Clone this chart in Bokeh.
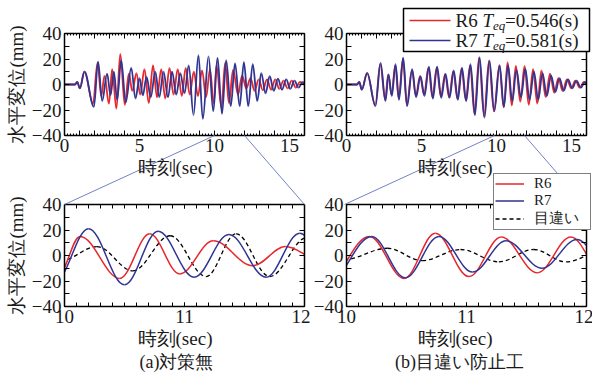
import math
import numpy as np
from bokeh.plotting import figure
from bokeh.models import (Range1d, LinearAxis, FixedTicker, Legend, LegendItem, Label,
                          ColumnDataSource, GridBox, NoOverlap)
from bokeh.layouts import column
from bokeh.embed import file_html
from bokeh.resources import INLINE

# ---------------- data (extrema) ----------------
# (a) 対策無
t_R6a = [0, 0.7, 0.85, 1.02, 1.33, 1.9, 2.2, 2.45, 2.67, 2.96, 3.18, 3.46, 3.72, 4.02, 4.29,
         4.52, 4.8, 5.05, 5.33, 5.62, 5.9, 6.17, 6.45, 6.72, 7.0, 7.27, 7.55, 7.82, 8.08, 8.35,
         8.62, 8.9, 9.17, 9.44, 9.7, 9.95, 10.13, 10.46, 10.71, 10.96, 11.24, 11.57, 11.84, 12.12,
         12.4, 12.67, 12.95, 13.22, 13.5, 13.77, 14.05, 14.32, 14.6, 14.87, 15.15, 15.42, 15.7, 16.0]
v_R6a = [0, 0, 2, -3, 10, -15, 17, -9, 7, -15, 12, -19, 24, -16, 8.5,
         -5, 9, -8, 12, -14.5, 15, -10, 12, -11, 13, -8, 12, -9, 13, -8,
         10, -9, 11, -10, 12, -15, 15, -18, 17, -14.5, 11.5, -8, 7, -3,
         5, -5, 4, -4.5, 4, -4, 4, -3.5, 3, -3, 3, -2.5, 2, 0]
t_R7a = [0, 0.7, 0.85, 1.02, 1.33, 1.96, 2.24, 2.51, 2.84, 3.07, 3.29, 3.51, 3.78, 4.08, 4.45,
         4.73, 5.0, 5.22, 5.47, 5.75, 6.05, 6.32, 6.6, 6.9, 7.17, 7.45, 7.72, 8.0, 8.28, 8.6,
         8.93, 9.22, 9.6, 9.92, 10.2, 10.5, 10.78, 11.08, 11.37, 11.68, 11.96, 12.25, 12.55, 12.85,
         13.12, 13.4, 13.68, 13.95, 14.23, 14.5, 14.78, 15.05, 15.33, 15.6, 15.88, 16.0]
v_R7a = [0, 0, 2, -3, 10, -17.5, 18, -13, 8.5, -8.5, 10, -12, 19, -14, 13,
         -11, 5, -8.5, 6, -10, 10, -10, 10, -10, 10, -8, 9, -7, 15, -24,
         23, -27, 22, -21, 21, -23, 19, -17, 16.5, -17, 17.5, -17, 16, -13,
         9, -7, 6.5, -5, 4.5, -4, 4, -3.5, 3, -2.5, 2, 0]
t_Da = [9.7, 9.97, 10.27, 10.57, 10.88, 11.18, 11.43, 11.71, 12.02, 12.3]
v_Da = [2, -4, 7, -12, 15.5, -16.5, 17, -16.5, 14, -10]

# (b) 目違い防止工
t_R6b = [0, 0.7, 0.85, 1.02, 1.37, 1.92, 2.25, 2.58, 2.78, 3.0, 3.25, 3.48, 3.76, 4.02, 4.36,
         4.62, 4.9, 5.17, 5.46, 5.73, 6.01, 6.29, 6.57, 6.84, 7.12, 7.39, 7.67, 7.95, 8.24, 8.53,
         8.84, 9.17, 9.5, 9.83, 10.19, 10.48, 10.74, 11.02, 11.29, 11.59, 11.87, 12.15, 12.44, 12.72,
         13.0, 13.28, 13.57, 13.85, 14.13, 14.41, 14.7, 14.98, 15.26, 15.55, 15.83, 16.0]
v_R6b = [0, 0, 2, -4, 9, -16, 16, -12, 8, -8, 15, -11, 20, -16, 11,
         -9, 6.5, -8, 13, -10, 13, -9.5, 8, -10, 10.5, -11, 12.5, -12, 15, -23,
         21, -25, 18.5, -21, 15, -18, 17.5, -16.5, 14.5, -13.5, 14.5, -16, 12, -15,
         11, -10, 8.5, -6.5, 5, -5, 4, -3, 3, -2.5, 2, 0]
t_R7b = [0, 0.7, 0.85, 1.02, 1.38, 1.93, 2.27, 2.6, 2.8, 3.02, 3.27, 3.5, 3.78, 4.04, 4.38,
         4.64, 4.93, 5.2, 5.49, 5.76, 6.04, 6.32, 6.6, 6.87, 7.15, 7.42, 7.7, 7.98, 8.27, 8.56,
         8.87, 9.2, 9.53, 9.85, 10.21, 10.49, 10.77, 11.05, 11.33, 11.63, 11.92, 12.2, 12.5, 12.78,
         13.07, 13.35, 13.64, 13.92, 14.2, 14.48, 14.77, 15.05, 15.33, 15.62, 15.9, 16.0]
v_R7b = [0, 0, 2, -4, 9, -17, 17, -13, 8, -9, 16, -12, 21, -17, 12,
         -10, 6.5, -9, 14, -11, 14, -10.5, 8.5, -10.5, 11, -12, 13, -13, 16, -24,
         21.5, -26, 19, -21, 15, -17.5, 15, -13, 11.5, -10, 12.5, -12, 10, -12,
         9, -9, 7, -6, 5, -5, 4, -3, 3, -2.5, 2, 0]
t_Db = [9.7, 9.98, 10.34, 10.63, 10.95, 11.27, 11.56, 11.83, 12.15, 12.4]
v_Db = [3, -3.2, 5.7, -4, 4.7, -5, 4.7, -5, 4.5, -4]

# ticks / labels
Y_MAJOR = [-40, -20, 0, 20, 40]
Y_MINOR = [-30, -10, 10, 30]
XT_MAJOR = list(range(0, 17))
XB_MAJOR = [10, 11, 12]
ZOOM_T = [10, 12]
LEG_TOP = ["R6", "R7"]
TEQ = ["=0.546(s)", "=0.581(s)"]
LEG_BOT = ["R6", "R7", "目違い"]
XLABEL = "時刻(sec)"
YLABEL = "水平変位(mm)"
CAPTIONS = ["(a)対策無", "(b)目違い防止工"]

# ---------------- styling ----------------
RED = "#e8262d"
BLUE = "#2e3592"
ZOOM = "#7282c8"
TXT = "#1a1a1a"
SERIF = "Liberation Serif"
FW, FH = 240, 102
W, H = 591, 375

GEOM = {
    "TL": dict(left=64, top=33, x0=0, x1=16),
    "TR": dict(left=344, top=33, x0=0, x1=16),
    "BL": dict(left=64, top=204, x0=10, x1=12),
    "BR": dict(left=344, top=204, x0=10, x1=12),
}


def px_of(g, x, y):
    return (g["left"] + (x - g["x0"]) * FW / (g["x1"] - g["x0"]),
            g["top"] + FH - (y + 40) * FH / 80)


def make_fig(g, bl, br, bt, bb):
    p = figure(x_range=Range1d(g["x0"], g["x1"]), y_range=Range1d(-40, 40),
               frame_width=FW, frame_height=FH,
               min_border_left=bl, min_border_right=br, min_border_top=bt, min_border_bottom=bb,
               x_axis_type=None, y_axis_type=None, output_backend="svg",
               toolbar_location=None, title=None)
    p.outline_line_color = None
    p.background_fill_color = "white"
    p.border_fill_color = "white"
    return p


def style_axis(ax, labels, tin, tmin):
    ax.axis_line_width = 1.5
    ax.axis_line_color = "black"
    ax.major_tick_in = tin
    ax.major_tick_out = 0
    ax.minor_tick_in = tmin
    ax.minor_tick_out = 0
    ax.major_tick_line_width = 1
    ax.minor_tick_line_width = 1
    ax.major_tick_line_color = "black"
    ax.minor_tick_line_color = "black"
    if labels:
        ax.major_label_text_font = SERIF
        ax.major_label_text_font_size = "19px"
        ax.major_label_text_color = TXT
        ax.major_label_standoff = 3
    else:
        ax.major_label_text_font_size = "1px"
        ax.major_label_text_color = None
        ax.major_label_standoff = 0


def add_axes(p, xmajor, xminor, xtin, xtmin, policy=None):
    for side in ("below", "above"):
        ax = LinearAxis(ticker=FixedTicker(ticks=xmajor, minor_ticks=xminor))
        style_axis(ax, side == "below", xtin, xtmin)
        if side == "below" and policy is not None:
            ax.major_label_policy = policy
        p.add_layout(ax, side)
    for side in ("left", "right"):
        ax = LinearAxis(ticker=FixedTicker(ticks=Y_MAJOR, minor_ticks=Y_MINOR))
        style_axis(ax, side == "left", 5, 5)
        p.add_layout(ax, side)


def bez(p, t, v, color, width, dash="solid"):
    t = np.asarray(t, float)
    v = np.asarray(v, float)
    d = np.diff(t)
    k = 0.36
    src = ColumnDataSource(dict(x0=t[:-1], y0=v[:-1], x1=t[1:], y1=v[1:],
                                cx0=t[:-1] + k * d, cy0=v[:-1],
                                cx1=t[1:] - k * d, cy1=v[1:]))
    return p.bezier(x0="x0", y0="y0", x1="x1", y1="y1", cx0="cx0", cy0="cy0",
                    cx1="cx1", cy1="cy1", source=src, line_color=color,
                    line_width=width, line_dash=dash)


top_minor = [round(i * 0.2, 2) for i in range(81)]
bot_minor = [round(10 + i * 0.1, 2) for i in range(21)]

# column 0: 310 wide, column 1: 281 wide; row 0: 177 high, row 1: 198 high
pTL = make_fig(GEOM["TL"], 64, 6, 33, 42)
pTR = make_fig(GEOM["TR"], 34, 7, 33, 42)
pBL = make_fig(GEOM["BL"], 64, 6, 27, 69)
pBR = make_fig(GEOM["BR"], 34, 7, 27, 69)

for p in (pTL, pTR):
    add_axes(p, XT_MAJOR, top_minor, 5, 2, NoOverlap(min_distance=53))
for p in (pBL, pBR):
    add_axes(p, XB_MAJOR, bot_minor, 4, 4)

# curves
bez(pTL, t_R6a, v_R6a, RED, 1.8)
bez(pTL, t_R7a, v_R7a, BLUE, 1.8)
bez(pTR, t_R6b, v_R6b, RED, 1.8)
bez(pTR, t_R7b, v_R7b, BLUE, 1.8)

bez(pBL, t_Da, v_Da, "black", 1.3, "4 3")
bez(pBL, t_R6a, v_R6a, RED, 1.5)
bez(pBL, t_R7a, v_R7a, BLUE, 1.5)
bez(pBR, t_Db, v_Db, "black", 1.3, "4 3")
bez(pBR, t_R6b, v_R6b, RED, 1.5)
bez(pBR, t_R7b, v_R7b, BLUE, 1.5)

# ---------------- transparent overlay in page pixels ----------------
ov = figure(width=W, height=H, x_range=Range1d(0, W), y_range=Range1d(H, 0),
            min_border_left=0, min_border_right=0, min_border_top=0, min_border_bottom=0,
            x_axis_type=None, y_axis_type=None, output_backend="svg",
            toolbar_location=None, title=None)
ov.background_fill_color = None
ov.border_fill_color = None
ov.outline_line_color = None

# zoom connector lines: from t=10/12 on the top axes to the corners of the zoomed plots
zx0, zy0, zx1, zy1 = [], [], [], []
for top, bot in (("TL", "BL"), ("TR", "BR")):
    for t_edge in ZOOM_T:
        a = px_of(GEOM[top], t_edge, -40)
        c = px_of(GEOM[bot], t_edge, 40)
        zx0.append(a[0]); zy0.append(a[1]); zx1.append(c[0]); zy1.append(c[1])
ov.segment(x0=zx0, y0=zy0, x1=zx1, y1=zy1, line_color=ZOOM, line_width=1)


def label(px, py, text, size="19px", angle=0.0, align="center", style="normal"):
    ov.add_layout(Label(x=px, y=py, text=text, text_font=SERIF, text_font_size=size,
                        text_align=align, text_baseline="middle", angle=angle,
                        text_font_style=style, text_color=TXT))


for key in ("TL", "TR", "BL", "BR"):
    g = GEOM[key]
    label(g["left"] + FW / 2 - 9.5, g["top"] + FH + 32, XLABEL)
    if key in ("TL", "BL"):
        label(16, g["top"] + FH / 2, YLABEL, angle=math.pi / 2)
label(176, 361, CAPTIONS[0], size="18px")
label(459, 361, CAPTIONS[1], size="18px")

# ---------------- top legend (box 403..589 x 8..51), drawn piece by piece ----------------
ov.quad(left=[403], right=[589], top=[8], bottom=[51], fill_color="white",
        line_color="black", line_width=1.5)
row_y = [20, 40]
ov.segment(x0=[409, 409], y0=row_y, x1=[450, 450], y1=row_y,
           line_color=[RED, BLUE], line_width=1.6)
for i in range(2):
    cy = row_y[i]
    label(455, cy, LEG_TOP[i], align="left")
    label(482, cy, "T", align="left", style="italic")
    label(492.5, cy + 5, "eq", size="13px", align="left", style="italic")
    label(504.5, cy, TEQ[i], align="left")


# ---------------- bottom legend (Bokeh Legend with hidden style proxies) ----------------
def proxy(t, v, **kw):
    r = ov.line(x=t, y=v, **kw)
    r.visible = False
    return r


br6 = proxy(t_R6b, v_R6b, line_color=RED, line_width=1.5)
br7 = proxy(t_R7b, v_R7b, line_color=BLUE, line_width=1.5)
bdd = proxy(t_Db, v_Db, line_color="black", line_width=1.3, line_dash="4 3")

legB = Legend(items=[LegendItem(label=LEG_BOT[0], renderers=[br6]),
                     LegendItem(label=LEG_BOT[1], renderers=[br7]),
                     LegendItem(label=LEG_BOT[2], renderers=[bdd])],
              location=(493, H - 230), padding=1, spacing=0, margin=0,
              glyph_width=29, glyph_height=17, label_height=17, label_standoff=10,
              label_width=55, label_text_font=SERIF, label_text_font_size="15px",
              label_text_color=TXT, border_line_color="black", border_line_width=1.5,
              background_fill_color="white", background_fill_alpha=1.0,
              inactive_fill_alpha=0.0)
ov.add_layout(legB)

# the overlay is wrapped so the grid does not align its frame with the sub-plots
ov_box = column(ov, width=W, height=H)
layout = GridBox(children=[(pTL, 0, 0), (pTR, 0, 1), (pBL, 1, 0), (pBR, 1, 1),
                           (ov_box, 0, 0, 2, 2)])
open("out.html", "w").write(file_html(layout, INLINE, "chart"))
